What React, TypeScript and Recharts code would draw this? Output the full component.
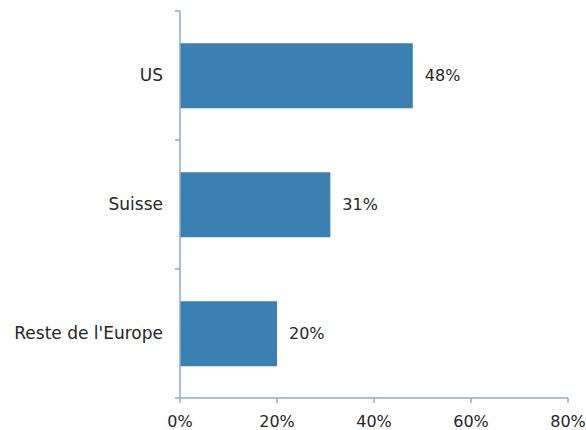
import { BarChart, Bar, XAxis, YAxis, LabelList } from 'recharts'

const categories = ['US', 'Suisse', "Reste de l'Europe"]
const shares = [48, 31, 20]
const xTicks = [0, 20, 40, 60, 80]

const data = categories.map((name, i) => ({ name, value: shares[i] }))

const W = 586
const H = 430
const margin = { top: 11, right: 18, left: 0, bottom: 0 }
const yAxisWidth = 180
const xAxisHeight = 32
const labelGap = 17
const band = (H - margin.top - margin.bottom - xAxisHeight) / categories.length

const axisColor = '#8eaacb'
const font = { fontFamily: '"DejaVu Sans", sans-serif', fontSize: 16, fill: '#262626' }

// category label plus the small marks on the band edges
function CategoryTick(props: any) {
  const { x, y, payload, index } = props
  const ax = x + labelGap
  return (
    <g>
      <line x1={ax - 5} x2={ax} y1={y - band / 2} y2={y - band / 2} stroke={axisColor} strokeWidth={1.5} />
      {index === categories.length - 1 && (
        <line x1={ax - 5} x2={ax} y1={y + band / 2} y2={y + band / 2} stroke={axisColor} strokeWidth={1.5} />
      )}
      <text x={x} y={y} dy="0.35em" textAnchor="end" {...font} fontSize={17}>
        {payload.value}
      </text>
    </g>
  )
}

export default function App() {
  return (
    <div style={{ position: 'absolute', left: 0, top: 0, background: '#fff' }}>
      <BarChart
        width={W}
        height={H}
        data={data}
        layout="vertical"
        margin={margin}
        barCategoryGap="25%"
      >
        <YAxis
          type="category"
          dataKey="name"
          width={yAxisWidth}
          stroke={axisColor}
          strokeWidth={1.5}
          tickLine={false}
          tickSize={0}
          tickMargin={labelGap}
          tick={<CategoryTick />}
          interval={0}
        />
        <XAxis
          type="number"
          domain={[0, 80]}
          ticks={xTicks}
          tickFormatter={(v) => `${v}%`}
          height={xAxisHeight}
          tickSize={5}
          tickMargin={13}
          stroke={axisColor}
          strokeWidth={1.5}
          tick={font}
          interval={0}
        />
        <Bar dataKey="value" fill="#3a80b2" isAnimationActive={false}>
          <LabelList
            dataKey="value"
            position="right"
            offset={12}
            formatter={(v: number) => `${v}%`}
            style={font}
          />
        </Bar>
      </BarChart>
    </div>
  )
}
